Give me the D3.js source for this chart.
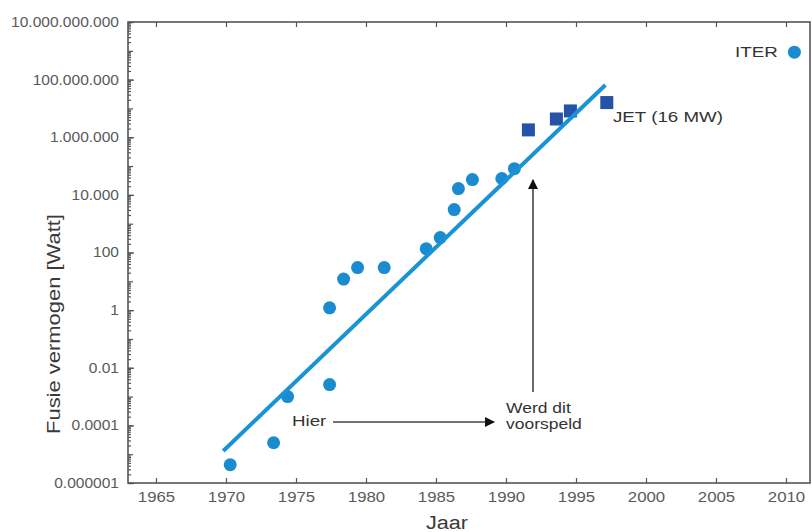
<!DOCTYPE html>
<html>
<head>
<meta charset="utf-8">
<script src="https://cdn.jsdelivr.net/npm/d3@7"></script>
<style>
  body { margin: 0; background: #fff; }
  svg { font-family: "Liberation Sans", Arial, sans-serif; }
</style>
</head>
<body>
<div id="container"></div>
<script>
// experiments (circles) and JET shots (squares), fusion power in Watt
var expYears  = [1970.3, 1973.4, 1974.4, 1977.4, 1977.4, 1978.4, 1979.4, 1981.3, 1984.3, 1985.3, 1986.3, 1986.6, 1987.6, 1989.7, 1990.6];
var expPower  = [4.3e-6, 2.5e-5, 1e-3, 2.6e-3, 1.2, 12, 30, 30, 135, 330, 3100, 16600, 34000, 37000, 81000];
var jetYears  = [1991.6, 1993.6, 1994.6, 1997.2];
var jetPower  = [1.8e6, 4.3e6, 8.2e6, 1.6e7];
var iterYear  = [2010.6];
var iterPower = [9e8];
// trend line end points
var trendYears = [1969.8, 1997.1];
var trendPower = [1.29e-5, 6.5e7];

var xTicks = [1965, 1970, 1975, 1980, 1985, 1990, 1995, 2000, 2005, 2010];
var yTicks = [1e-6, 1e-4, 1e-2, 1, 1e2, 1e4, 1e6, 1e8, 1e10];
var yTickLabels = ["0.000001", "0.0001", "0.01", "1", "100", "10.000", "1.000.000", "100.000.000", "10.000.000.000"];

var svg = d3.select("#container").append("svg")
    .attr("width", 812)
    .attr("height", 532);

// plot frame (note: "top" is a reserved window prop, so use other names)
var frameL = 128, frameR = 810, frameT = 22, frameB = 483;

var x = d3.scaleLinear().domain([1965, 2010]).range([156, 786]);
var y = d3.scaleLog().domain([1e-6, 1e10]).range([frameB, frameT]);

// the original text is a bit wider than Arial, stretch it horizontally around its x
function stretch(sel, s) {
  sel.attr("transform", function() {
    var tx = +d3.select(this).attr("x") || 0;
    var prev = d3.select(this).attr("transform") || "";
    return prev + " translate(" + tx + ",0) scale(" + s + ",1) translate(" + (-tx) + ",0)";
  });
}

// frame
svg.append("rect")
    .attr("x", frameL).attr("y", frameT)
    .attr("width", frameR - frameL).attr("height", frameB - frameT)
    .attr("fill", "none").attr("stroke", "#555").attr("stroke-width", 1.6);

// x axes (ticks inside)
var xb = svg.append("g").attr("transform", "translate(0," + frameB + ")")
    .call(d3.axisBottom(x).tickValues(xTicks).tickFormat(d3.format("d")).tickSize(-5).tickPadding(9));
svg.append("g").attr("transform", "translate(0," + frameT + ")")
    .call(d3.axisTop(x).tickValues(xTicks).tickFormat("").tickSize(-5));

// y axis: decade ticks, minor ticks, labels
var decades = d3.range(-6, 11).map(function(e) { return Math.pow(10, e); });
var minors = [];
decades.slice(0, -1).forEach(function(d) {
  for (var k = 2; k < 10; k++) minors.push(d * k);
});
svg.append("g").attr("transform", "translate(" + frameL + ",0)")
    .call(d3.axisLeft(y).tickValues(minors).tickFormat("").tickSize(-3));
svg.append("g").attr("transform", "translate(" + frameL + ",0)")
    .call(d3.axisLeft(y).tickValues(decades).tickFormat("").tickSize(-5));
var yl = svg.append("g").attr("transform", "translate(" + frameL + ",0)")
    .call(d3.axisLeft(y).tickValues(yTicks)
      .tickFormat(function(d, i) { return yTickLabels[i]; })
      .tickSize(-6).tickPadding(9));

svg.selectAll(".domain").remove();
svg.selectAll(".tick line").attr("stroke", "#555").attr("stroke-width", 1.2);
xb.selectAll("text").attr("font-size", 14).attr("fill", "#5a5a5a")
    .attr("font-family", "Liberation Sans, Arial, sans-serif")
    .call(stretch, 1.2);
yl.selectAll("text").attr("font-size", 14).attr("fill", "#5a5a5a")
    .attr("font-family", "Liberation Sans, Arial, sans-serif")
    .call(stretch, 1.11);

// axis titles
svg.append("text")
    .attr("x", 447).attr("y", 529)
    .attr("text-anchor", "middle")
    .attr("font-size", 19).attr("fill", "#3a3a3a")
    .text("Jaar")
    .call(stretch, 1.14);
svg.append("g")
    .attr("transform", "translate(60,324) rotate(-90)")
  .append("text")
    .attr("text-anchor", "middle")
    .attr("font-size", 18).attr("fill", "#3a3a3a")
    .text("Fusie vermogen [Watt]")
    .call(stretch, 1.22);

// marker for arrows
svg.append("defs").append("marker")
    .attr("id", "head")
    .attr("viewBox", "0 0 10 10")
    .attr("refX", 9).attr("refY", 5)
    .attr("markerWidth", 10).attr("markerHeight", 10)
    .attr("markerUnits", "userSpaceOnUse")
    .attr("orient", "auto")
  .append("path")
    .attr("d", "M0,0L10,5L0,10Z")
    .attr("fill", "#111");

// circles
var circleColor = "#1b8bd0";
svg.append("g").selectAll("circle")
    .data(expYears.map(function(d, i) { return [d, expPower[i]]; }))
    .enter().append("circle")
      .attr("cx", function(d) { return x(d[0]); })
      .attr("cy", function(d) { return y(d[1]); })
      .attr("r", 6.5)
      .attr("fill", circleColor);

svg.append("circle")
    .attr("cx", x(iterYear[0]))
    .attr("cy", y(iterPower[0]))
    .attr("r", 6.5)
    .attr("fill", circleColor);

// squares (JET)
svg.append("g").selectAll("rect")
    .data(jetYears.map(function(d, i) { return [d, jetPower[i]]; }))
    .enter().append("rect")
      .attr("x", function(d) { return x(d[0]) - 6.5; })
      .attr("y", function(d) { return y(d[1]) - 6.5; })
      .attr("width", 13).attr("height", 13)
      .attr("fill", "#2553a8");

// trend line
svg.append("path")
    .datum(trendYears.map(function(d, i) { return [d, trendPower[i]]; }))
    .attr("d", d3.line().x(function(d) { return x(d[0]); }).y(function(d) { return y(d[1]); }))
    .attr("stroke", "#1a93d6").attr("stroke-width", 4).attr("fill", "none");

// annotations
function label(tx, ty, s, fs) {
  svg.append("text")
      .attr("x", tx).attr("y", ty)
      .attr("font-size", fs || 15).attr("fill", "#333")
      .text(s)
      .call(stretch, 1.25);
}
label(292, 426, "Hier");
label(506, 413, "Werd dit", 14);
label(506, 429, "voorspeld", 14);
label(613, 122, "JET (16 MW)");
label(735, 57, "ITER");

svg.append("line")
    .attr("x1", 333).attr("y1", 422).attr("x2", 494).attr("y2", 422)
    .attr("stroke", "#444").attr("stroke-width", 1.6)
    .attr("marker-end", "url(#head)");
svg.append("line")
    .attr("x1", 533).attr("y1", 392).attr("x2", 533).attr("y2", 180)
    .attr("stroke", "#444").attr("stroke-width", 1.6)
    .attr("marker-end", "url(#head)");
</script>
</body>
</html>
